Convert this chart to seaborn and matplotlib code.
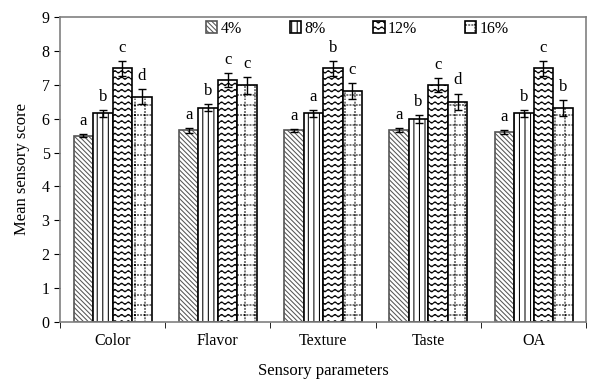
import warnings
import numpy as np
import pandas as pd
import seaborn as sns
import matplotlib
matplotlib.use('Agg')
import matplotlib.pyplot as plt
from matplotlib import hatch as mhatch
from matplotlib.path import Path
from matplotlib.ticker import FixedLocator

warnings.filterwarnings('ignore')

# data
params = ['Color', 'Flavor', 'Texture', 'Taste', 'OA']
levels = ['4%', '8%', '12%', '16%']
score_4 = [5.50, 5.65, 5.65, 5.66, 5.60]
score_8 = [6.16, 6.32, 6.16, 5.99, 6.16]
score_12 = [7.48, 7.14, 7.48, 6.99, 7.48]
score_16 = [6.65, 6.98, 6.82, 6.50, 6.32]
err_4 = [0.05, 0.07, 0.05, 0.05, 0.05]
err_8 = [0.10, 0.10, 0.10, 0.12, 0.10]
err_12 = [0.21, 0.21, 0.21, 0.21, 0.21]
err_16 = [0.23, 0.24, 0.24, 0.24, 0.24]
letters_4 = ['a', 'a', 'a', 'a', 'a']
letters_8 = ['b', 'b', 'a', 'b', 'b']
letters_12 = ['c', 'c', 'b', 'c', 'c']
letters_16 = ['d', 'c', 'c', 'd', 'b']


# custom hatches: wavy rows ('~') and a dotted grid ('#')
class WaveHatch(mhatch.HatchPatternBase):
    def __init__(self, hatch, density):
        self.num_lines = int(hatch.count('~') * 8)
        self.npts = 129
        self.num_vertices = self.num_lines * self.npts

    def set_vertices_and_codes(self, vertices, codes):
        x = np.linspace(0, 1, self.npts)
        for i in range(self.num_lines):
            y = (i + 0.5) / self.num_lines + 0.012 * np.sin(2 * np.pi * 15 * x)
            sl = slice(i * self.npts, (i + 1) * self.npts)
            vertices[sl, 0] = x
            vertices[sl, 1] = y
            codes[sl] = Path.LINETO
            codes[i * self.npts] = Path.MOVETO


class DotGridHatch(mhatch.HatchPatternBase):
    def __init__(self, hatch, density):
        self.num_lines = int(hatch.count('#') * 5)
        self.nseg = 32
        self.num_vertices = 2 * self.num_lines * self.nseg * 2

    def set_vertices_and_codes(self, vertices, codes):
        starts = np.arange(self.nseg) / self.nseg
        k = 0
        for i in range(self.num_lines):
            c = (i + 0.5) / self.num_lines
            for s in starts:
                for horiz in (True, False):
                    a, b = s, s + 0.3 / self.nseg
                    if horiz:
                        vertices[k] = (a, c)
                        vertices[k + 1] = (b, c)
                    else:
                        vertices[k] = (c, a)
                        vertices[k + 1] = (c, b)
                    codes[k] = Path.MOVETO
                    codes[k + 1] = Path.LINETO
                    k += 2


mhatch._hatch_types.append(WaveHatch)
mhatch._hatch_types.append(DotGridHatch)

plt.rcParams['font.family'] = 'Liberation Serif'
plt.rcParams['hatch.linewidth'] = 0.75

df = pd.DataFrame({
    'Parameter': params * 4,
    'Level': np.repeat(levels, len(params)),
    'Score': score_4 + score_8 + score_12 + score_16,
})
errs = [err_4, err_8, err_12, err_16]
letters = [letters_4, letters_8, letters_12, letters_16]
hatches = ['\\' * 7, '|||', '~~', '##']
edges = ['#555555', 'black', 'black', 'black']

fig = plt.figure(figsize=(6, 3.83), dpi=100)
ax = fig.add_axes([0.1, 0.159, 0.877, 0.797])
sns.barplot(data=df, x='Parameter', y='Score', hue='Level', order=params,
            hue_order=levels, width=0.74, gap=0, errorbar=None, legend=False,
            palette=['white'] * 4, ax=ax)

for i, cont in enumerate(ax.containers[:4]):
    for j, bar in enumerate(cont.patches):
        bar.set_hatch(hatches[i])
        bar.set_edgecolor(edges[i])
        bar.set_linewidth(1.2)
        xc = bar.get_x() + bar.get_width() / 2
        top = bar.get_height()
        ax.errorbar(xc, top, yerr=errs[i][j], color='black', capsize=3,
                    elinewidth=1, capthick=1)
        ax.text(xc, top + errs[i][j] + 0.15, letters[i][j], ha='center',
                va='bottom', fontsize=12)

ax.legend(ax.containers[:4], levels, loc='upper center', bbox_to_anchor=(0.565, 1.035),
          ncol=4, frameon=False, fontsize=11.5, handlelength=0.7, handleheight=0.7,
          handletextpad=0.2, columnspacing=3.0)

ax.set_ylim(0, 9)
ax.set_xlim(-0.5, 4.5)
ax.set_yticks(range(10))
ax.xaxis.set_minor_locator(FixedLocator(np.arange(-0.5, 5, 1)))
ax.tick_params(axis='x', which='major', length=0, labelsize=11.5, pad=8)
ax.tick_params(axis='x', which='minor', length=4, color='black', direction='out')
ax.tick_params(axis='y', length=4, labelsize=11.5, direction='out')
for sp in ax.spines.values():
    sp.set_color('#808080')
    sp.set_linewidth(1.2)
ax.set_xlabel('Sensory parameters', fontsize=12, labelpad=10)
ax.set_ylabel('Mean sensory score', fontsize=12, labelpad=8)

fig.savefig('out.png', dpi=100)
